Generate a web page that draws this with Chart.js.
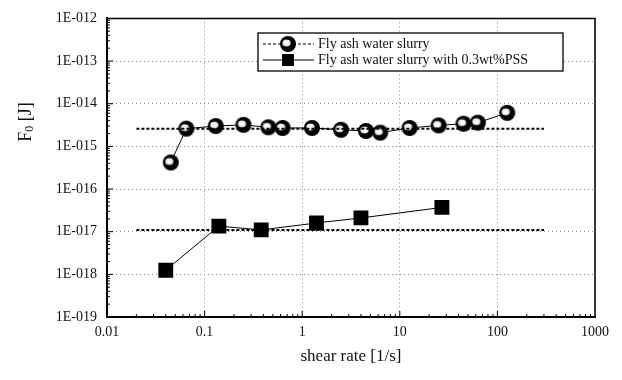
<!DOCTYPE html>
<html>
<head>
<meta charset="utf-8">
<script src="https://cdn.jsdelivr.net/npm/chart.js@4/dist/chart.umd.min.js"></script>
<style>
  html, body { margin: 0; padding: 0; background: #fff; }
  #wrap { width: 622px; height: 380px; }
</style>
</head>
<body>
<div id="wrap"><canvas id="f0Chart" width="622" height="380"></canvas></div>
<script>
// ===== DATA =====
const shearPlain = [0.045, 0.065, 0.13, 0.25, 0.45, 0.63, 1.26, 2.5, 4.5, 6.3, 12.6, 25, 45, 63, 126];
const f0Plain = [4.2e-16, 2.6e-15, 3.0e-15, 3.2e-15, 2.8e-15, 2.7e-15, 2.7e-15, 2.45e-15, 2.3e-15, 2.1e-15, 2.7e-15, 3.1e-15, 3.4e-15, 3.6e-15, 6.1e-15];

const shearPss = [0.04, 0.14, 0.38, 1.4, 4.0, 27];
const f0Pss = [1.25e-18, 1.35e-17, 1.1e-17, 1.6e-17, 2.1e-17, 3.7e-17];

// average level lines
const avgRange = [0.02, 300];
const avgPlain = 2.6e-15;
const avgPss = 1.1e-17;

const xTicks = [0.01, 0.1, 1, 10, 100, 1000];
const xTickLabels = ["0.01", "0.1", "1", "10", "100", "1000"];
const yTicks = [1e-19, 1e-18, 1e-17, 1e-16, 1e-15, 1e-14, 1e-13, 1e-12];

const legendNames = ["Fly ash water slurry", "Fly ash water slurry with 0.3wt%PSS"];

const SERIF = "'Liberation Serif', 'DejaVu Serif', serif";

// ===== MARKERS =====
function makeBall(r) {
  const c = document.createElement("canvas");
  c.width = c.height = r * 2 + 2;
  const g = c.getContext("2d");
  const cx = r + 1, cy = r + 1;
  g.fillStyle = "#000";
  g.beginPath(); g.arc(cx, cy, r, 0, Math.PI * 2); g.fill();
  const hl = g.createRadialGradient(cx - 1.5, cy - 1, 0.5, cx - 1.5, cy - 1, r * 0.6);
  hl.addColorStop(0, "rgba(255,255,255,1)");
  hl.addColorStop(0.65, "rgba(255,255,255,0.9)");
  hl.addColorStop(1, "rgba(255,255,255,0)");
  g.fillStyle = hl;
  g.beginPath(); g.ellipse(cx - 1.5, cy - 1, r * 0.65, r * 0.45, 0, 0, Math.PI * 2); g.fill();
  return c;
}
const ball = makeBall(8);

function toPoints(xs, ys) {
  return xs.map((x, i) => ({ x: x, y: ys[i] }));
}

// ===== FRAME, MINOR TICKS, TITLES, LEGEND =====
const decorPlugin = {
  id: "decor",
  afterDatasetsDraw(chart) {
    const ctx = chart.ctx;
    const a = chart.chartArea;
    const xs = chart.scales.x, ys = chart.scales.y;
    ctx.save();
    ctx.strokeStyle = "#000";

    // top / right frame
    ctx.lineWidth = 1.5;
    ctx.beginPath();
    ctx.moveTo(a.left, a.top); ctx.lineTo(a.right, a.top); ctx.lineTo(a.right, a.bottom);
    ctx.stroke();

    // inward ticks on left and bottom
    ctx.lineWidth = 1;
    for (let e = -19; e < -12; e++) {
      for (let m = 1; m < 10; m++) {
        const py = ys.getPixelForValue(m * Math.pow(10, e));
        const len = m === 1 ? 6 : 3;
        ctx.beginPath(); ctx.moveTo(a.left, py); ctx.lineTo(a.left + len, py); ctx.stroke();
      }
    }
    for (let e = -2; e < 3; e++) {
      for (let m = 1; m < 10; m++) {
        const px = xs.getPixelForValue(m * Math.pow(10, e));
        const len = m === 1 ? 6 : 3;
        ctx.beginPath(); ctx.moveTo(px, a.bottom); ctx.lineTo(px, a.bottom - len); ctx.stroke();
      }
    }

    // axis titles
    ctx.fillStyle = "#111";
    ctx.font = "17px " + SERIF;
    ctx.textAlign = "center";
    ctx.textBaseline = "middle";
    ctx.fillText("shear rate [1/s]", (a.left + a.right) / 2, 357);

    ctx.save();
    ctx.translate(26, 122);
    ctx.rotate(-Math.PI / 2);
    ctx.textAlign = "left";
    ctx.font = "18px " + SERIF;
    const wF = ctx.measureText("F").width;
    ctx.font = "12px " + SERIF;
    const w0 = ctx.measureText("0").width;
    ctx.font = "18px " + SERIF;
    const wJ = ctx.measureText(" [J]").width;
    let sx = -(wF + w0 + wJ) / 2;
    ctx.fillText("F", sx, 0); sx += wF;
    ctx.font = "12px " + SERIF;
    ctx.fillText("0", sx, 4); sx += w0;
    ctx.font = "18px " + SERIF;
    ctx.fillText(" [J]", sx, 0);
    ctx.restore();

    // legend box
    const lx = 258, ly = 33, lw = 305, lh = 38;
    ctx.fillStyle = "#fff";
    ctx.fillRect(lx, ly, lw, lh);
    ctx.lineWidth = 1.3;
    ctx.strokeRect(lx, ly, lw, lh);

    const rows = [44, 60];
    ctx.lineWidth = 1;
    ctx.setLineDash([3, 2]);
    ctx.beginPath(); ctx.moveTo(263, rows[0]); ctx.lineTo(314, rows[0]); ctx.stroke();
    ctx.setLineDash([]);
    ctx.beginPath(); ctx.moveTo(263, rows[1]); ctx.lineTo(314, rows[1]); ctx.stroke();
    ctx.drawImage(ball, 288 - ball.width / 2, rows[0] - ball.height / 2);
    ctx.fillStyle = "#000";
    ctx.fillRect(288 - 6, rows[1] - 6, 12, 12);

    ctx.fillStyle = "#111";
    ctx.font = "14px " + SERIF;
    ctx.textAlign = "left";
    ctx.fillText(legendNames[0], 318, rows[0]);
    ctx.fillText(legendNames[1], 318, rows[1]);
    ctx.restore();
  }
};

// ===== CHART =====
const ctx = document.getElementById("f0Chart").getContext("2d");
new Chart(ctx, {
  type: "scatter",
  data: {
    datasets: [
      {
        label: "avg plain",
        data: toPoints(avgRange, [avgPlain, avgPlain]),
        showLine: true,
        borderColor: "#000",
        borderWidth: 2,
        borderDash: [3, 2],
        pointRadius: 0,
      },
      {
        label: "avg pss",
        data: toPoints(avgRange, [avgPss, avgPss]),
        showLine: true,
        borderColor: "#000",
        borderWidth: 2,
        borderDash: [3, 2],
        pointRadius: 0,
      },
      {
        label: legendNames[0],
        data: toPoints(shearPlain, f0Plain),
        showLine: true,
        borderColor: "#000",
        borderWidth: 1,
        pointStyle: ball,
        pointRadius: 8,
      },
      {
        label: legendNames[1],
        data: toPoints(shearPss, f0Pss),
        showLine: true,
        borderColor: "#000",
        borderWidth: 1,
        pointStyle: "rect",
        pointRadius: 10.5,
        pointBackgroundColor: "#000",
        pointBorderColor: "#000",
        pointBorderWidth: 0,
      },
    ],
  },
  options: {
    responsive: false,
    animation: false,
    devicePixelRatio: 1,
    layout: { padding: { top: 17, right: 27, left: 0, bottom: 0 } },
    plugins: {
      legend: { display: false },
      tooltip: { enabled: false },
    },
    scales: {
      x: {
        type: "logarithmic",
        min: 0.01,
        max: 1000,
        afterBuildTicks: (s) => { s.ticks = xTicks.map(v => ({ value: v })); },
        afterFit: (s) => { s.height = 63; },
        ticks: {
          color: "#111",
          padding: 7,
          maxRotation: 0,
          autoSkip: false,
          font: { family: SERIF, size: 14 },
          callback: (v) => xTickLabels[xTicks.indexOf(v)] ?? "",
        },
        grid: { color: "#8a8a8a", lineWidth: 1, drawTicks: false },
        border: { color: "#000", width: 2, dash: [1, 3] },
      },
      y: {
        type: "logarithmic",
        min: 1e-19,
        max: 1e-12,
        afterBuildTicks: (s) => { s.ticks = yTicks.map(v => ({ value: v })); },
        afterFit: (s) => { s.width = 107; },
        ticks: {
          color: "#111",
          padding: 10,
          autoSkip: false,
          font: { family: SERIF, size: 14 },
          callback: (v) => "1E-" + String(-Math.round(Math.log10(v))).padStart(3, "0"),
        },
        grid: { color: "#8a8a8a", lineWidth: 1, drawTicks: false },
        border: { color: "#000", width: 2, dash: [1, 3] },
      },
    },
  },
  plugins: [decorPlugin],
});
</script>
</body>
</html>
